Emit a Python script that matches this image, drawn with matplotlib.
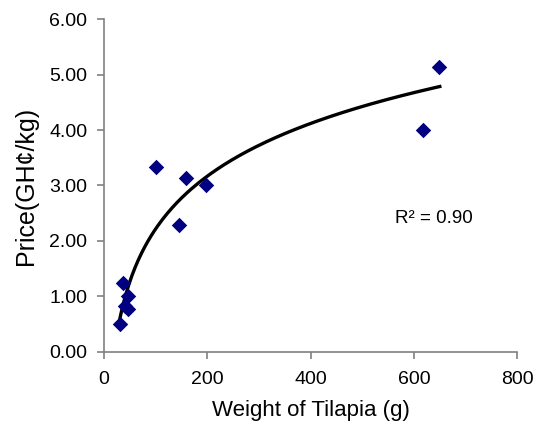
import numpy as np
import matplotlib

matplotlib.use("Agg")
import matplotlib.pyplot as plt

# tilapia weight (g) vs market price (GH¢/kg)
weight_g = [30, 37, 41, 46, 46, 100, 146, 159, 197, 618, 649]
price = [0.50, 1.24, 0.83, 1.01, 0.78, 3.34, 2.28, 3.13, 3.00, 4.00, 5.13]

# logarithmic trendline y = a*ln(x) + b
trend_a = 1.37
trend_b = -4.09
trend_range = (29, 650)
r2_label = "R² = 0.90"

plt.rcParams["font.family"] = ["Liberation Sans", "DejaVu Sans"]

fig = plt.figure(figsize=(5.37, 4.29), dpi=100)
ax = fig.add_axes([0.1937, 0.1795, 0.7696, 0.7762])

ax.scatter(weight_g, price, marker="D", s=62, color="#000080", linewidths=0, zorder=3)

xs = np.linspace(*trend_range, 200)
ax.plot(xs, trend_a * np.log(xs) + trend_b, color="black", linewidth=2.4, zorder=2)

ax.text(563, 2.41, r2_label, fontsize=13.5, va="center", ha="left")

ax.set_xlim(0, 800)
ax.set_ylim(0, 6)
ax.set_xticks(range(0, 801, 200))
ax.set_yticks(np.arange(0, 6.01, 1))
ax.set_yticklabels([f"{v:.2f}" for v in np.arange(0, 6.01, 1)])

for side in ("top", "right"):
    ax.spines[side].set_visible(False)
for side in ("left", "bottom"):
    ax.spines[side].set_color("#808080")
    ax.spines[side].set_linewidth(1.2)
ax.tick_params(axis="both", colors="#808080", labelcolor="black", labelsize=14,
               length=5, width=1.2)
ax.tick_params(axis="x", pad=9)
ax.tick_params(axis="y", pad=7)

ax.set_xlabel("Weight of Tilapia (g)", fontsize=16, labelpad=8)
ax.set_ylabel("Price(GH¢/kg)", fontsize=18, labelpad=8)

fig.savefig("out.png", dpi=100)
